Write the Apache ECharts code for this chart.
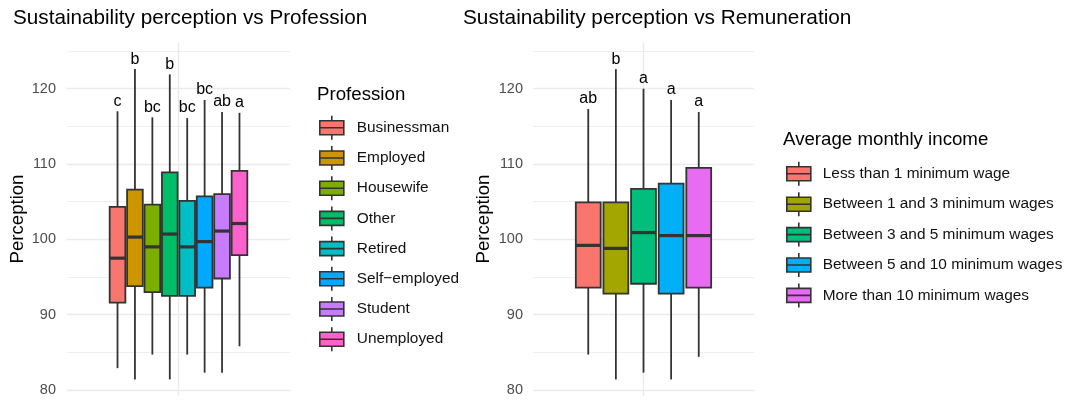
<!DOCTYPE html>
<html>
<head>
<meta charset="utf-8">
<script src="https://cdn.jsdelivr.net/npm/echarts@6/dist/echarts.min.js"></script>
<style>
  html, body { margin: 0; padding: 0; background: #fff; }
  #chart { width: 1083px; height: 403px; }
</style>
</head>
<body>
<div id="chart"></div>
<script>
// Box summaries for the profession panel (whisker low, Q1, median, Q3, whisker high)
const professions = ['Businessman', 'Employed', 'Housewife', 'Other', 'Retired', 'Self\u2212employed', 'Student', 'Unemployed'];
const profLow    = [82.9, 81.4, 84.7, 81.4, 84.7, 82.3, 82.3, 85.8];
const profQ1     = [91.6, 93.8, 93.0, 92.5, 92.5, 93.6, 94.8, 97.9];
const profMedian = [97.5, 100.3, 99.0, 100.7, 99.0, 99.7, 101.1, 102.1];
const profQ3     = [104.3, 106.6, 104.6, 108.9, 105.1, 105.7, 106.0, 109.1];
const profHigh   = [117.0, 122.6, 116.2, 121.9, 116.1, 118.5, 116.9, 116.8];
const profLetters = ['c', 'b', 'bc', 'b', 'bc', 'bc', 'ab', 'a'];
const profColors = ['#F8766D', '#CD9600', '#7CAE00', '#00BE67', '#00BFC4', '#00A9FF', '#C77CFF', '#FF61CC'];

// Box summaries for the income panel
const incomes = ['Less than 1 minimum wage', 'Between 1 and 3 minimum wages', 'Between 3 and 5 minimum wages', 'Between 5 and 10 minimum wages', 'More than 10 minimum wages'];
const incLow    = [84.7, 81.4, 82.3, 81.4, 84.4];
const incQ1     = [93.6, 92.8, 94.1, 92.8, 93.6];
const incMedian = [99.2, 98.8, 100.9, 100.5, 100.5];
const incQ3     = [104.9, 104.9, 106.7, 107.4, 109.5];
const incHigh   = [117.3, 122.6, 120.0, 118.5, 116.9];
const incLetters = ['ab', 'b', 'a', 'a', 'a'];
const incColors = ['#F8766D', '#A3A500', '#00BF7D', '#00B0F6', '#E76BF3'];

// Axis settings
const yMin = 79.2, yMax = 126.2;

const FONT = '"Liberation Sans", Arial, Helvetica, sans-serif';
const INK = '#333333';
const GRID = '#EBEBEB';
const DODGE = 0.75;
const STROKE = 1.8;

// One custom series per group, dodged around the single x position 0
function boxSeries(names, low, q1, med, q3, high, letters, colors, axisIndex) {
  const n = names.length;
  const slot = DODGE / n;
  const boxW = slot * 0.9;
  return names.map((name, i) => ({
    type: 'custom',
    name: name,
    xAxisIndex: axisIndex,
    yAxisIndex: axisIndex,
    itemStyle: { color: colors[i] },
    encode: { x: 0, y: [1, 2, 3, 4, 5] },
    data: [[(i - (n - 1) / 2) * slot, low[i], q1[i], med[i], q3[i], high[i]]],
    renderItem: function (params, api) {
      const x = api.value(0);
      const pLo = api.coord([x, api.value(1)]);
      const pQ1 = api.coord([x, api.value(2)]);
      const pMd = api.coord([x, api.value(3)]);
      const pQ3 = api.coord([x, api.value(4)]);
      const pHi = api.coord([x, api.value(5)]);
      const w = api.size([boxW, 0])[0];
      const cx = pLo[0];
      return {
        type: 'group',
        children: [
          { type: 'line', shape: { x1: cx, y1: pHi[1], x2: cx, y2: pQ3[1] }, style: { stroke: INK, lineWidth: STROKE } },
          { type: 'line', shape: { x1: cx, y1: pQ1[1], x2: cx, y2: pLo[1] }, style: { stroke: INK, lineWidth: STROKE } },
          { type: 'rect', shape: { x: cx - w / 2, y: pQ3[1], width: w, height: pQ1[1] - pQ3[1] },
            style: { fill: colors[i], stroke: INK, lineWidth: STROKE } },
          { type: 'line', shape: { x1: cx - w / 2, y1: pMd[1], x2: cx + w / 2, y2: pMd[1] }, style: { stroke: INK, lineWidth: 3.2 } },
          { type: 'text', x: cx, y: pHi[1] - 2,
            style: { text: letters[i], fill: '#000', fontSize: 16, fontFamily: FONT, align: 'center', verticalAlign: 'bottom' } }
        ]
      };
    }
  }));
}

function xAxisFor(gridIndex) {
  return {
    type: 'value', gridIndex: gridIndex, min: -0.6, max: 0.6, interval: 0.6,
    axisLine: { show: false }, axisTick: { show: false }, axisLabel: { show: false },
    splitLine: { show: true, showMinLine: false, showMaxLine: false, lineStyle: { color: GRID, width: 1.4 } }
  };
}

function yAxisFor(gridIndex, margin) {
  return {
    type: 'value', gridIndex: gridIndex, min: yMin, max: yMax, splitNumber: 5,
    name: 'Perception', nameLocation: 'middle', nameGap: 40,
    nameTextStyle: { color: '#000', fontSize: 18.6, fontFamily: FONT },
    axisLine: { show: false }, axisTick: { show: false },
    axisLabel: { showMinLabel: false, showMaxLabel: false, color: '#4D4D4D', fontSize: 14.5, fontFamily: FONT, margin: margin },
    splitLine: { show: true, showMinLine: false, showMaxLine: false, lineStyle: { color: GRID, width: 1.4 } },
    minorTick: { show: false, splitNumber: 2 },
    minorSplitLine: { show: true, lineStyle: { color: GRID, width: 0.8 } }
  };
}

const keyIcon = 'path://M0,5H24V19H0Z M0,12H24 M12,0V5 M12,19V24';

function legendFor(names, left, top, gap, pad) {
  return {
    orient: 'vertical', left: left, top: top, padding: 0,
    itemWidth: 24, itemHeight: 24, itemGap: gap,
    icon: keyIcon, data: names, selectedMode: false,
    itemStyle: { borderColor: INK, borderWidth: 1.6 },
    textStyle: { color: '#111', fontSize: 15.4, fontFamily: FONT, padding: [0, 0, 0, pad] }
  };
}

const titleStyle = (size) => ({ color: '#000', fontSize: size, fontWeight: 'normal', fontFamily: FONT });

const option = {
  animation: false,
  backgroundColor: '#fff',
  title: [
    { text: 'Sustainability perception vs Profession', left: 13, top: 8, padding: 0, textStyle: titleStyle(20.7) },
    { text: 'Sustainability perception vs Remuneration', left: 463, top: 8, padding: 0, textStyle: titleStyle(20.8) },
    { text: 'Profession', left: 317, top: 85, padding: 0, textStyle: titleStyle(18.7) },
    { text: 'Average monthly income', left: 783, top: 130, padding: 0, textStyle: titleStyle(18.7) }
  ],
  grid: [
    { left: 67, top: 42, width: 223, height: 354 },
    { left: 533, top: 42, width: 221, height: 354 }
  ],
  xAxis: [xAxisFor(0), xAxisFor(1)],
  yAxis: [yAxisFor(0, 11), yAxisFor(1, 10)],
  legend: [
    legendFor(professions, 319, 115, 4.6, 8),
    legendFor(incomes, 786, 161, 4.8, 7)
  ],
  series: [].concat(
    boxSeries(professions, profLow, profQ1, profMedian, profQ3, profHigh, profLetters, profColors, 0),
    boxSeries(incomes, incLow, incQ1, incMedian, incQ3, incHigh, incLetters, incColors, 1)
  )
};

const chart = echarts.init(document.getElementById('chart'), null, { renderer: 'canvas' });
chart.setOption(option);
</script>
</body>
</html>
